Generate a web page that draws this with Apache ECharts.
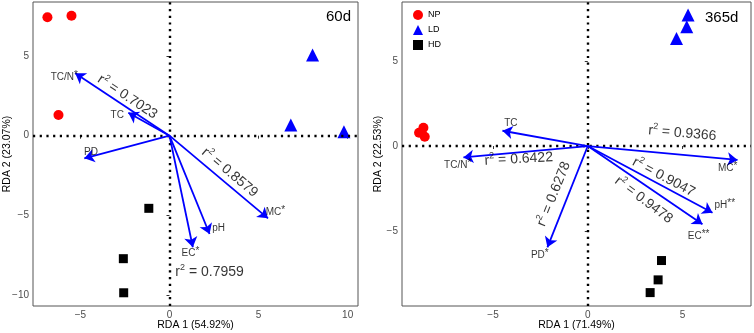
<!DOCTYPE html>
<html>
<head>
<meta charset="utf-8">
<script src="https://cdn.jsdelivr.net/npm/echarts@6/dist/echarts.min.js"></script>
<style>
  html, body { margin: 0; padding: 0; background: #fff; }
  #chart { width: 754px; height: 333px; }
</style>
</head>
<body>
<div id="chart"></div>
<script>
// sample scores (RDA1, RDA2)
const groups = ['NP', 'LD', 'HD'];
const np60 = [[-6.85, 7.43], [-5.5, 7.53], [-6.23, 1.30]];
const ld60 = [[8.03, 5.07], [6.81, 0.67], [9.79, 0.25]];
const hd60 = [[-1.16, -4.56], [-2.59, -7.72], [-2.57, -9.86]];
const np365 = [[-8.9, 0.78], [-8.67, 1.08], [-8.6, 0.55]];
const ld365 = [[5.29, 7.72], [5.22, 7.03], [4.68, 6.34]];
const hd365 = [[3.89, -6.75], [3.71, -7.89], [3.29, -8.64]];

// environmental vectors
const vars60 = ['TC/N', 'TC', 'PD', 'MC', 'pH', 'EC'];
const tips60 = [[-5.29, 3.92], [-2.31, 1.44], [-4.78, -1.42], [5.53, -5.19], [2.25, -6.17], [1.31, -7.0]];
const stars60 = ['*', '', '', '*', '', '*'];
const labelAt60 = [[-5.9, 3.66], [-2.93, 1.29], [-4.41, -1.07], [5.95, -4.79], [2.76, -5.8], [1.18, -7.4]];
const r2Text60 = ['0.7023', '0.8579', '0.7959'];
const r2At60 = [[-2.36, 2.43], [3.38, -2.31], [2.25, -8.54]];
const r2Rot60 = [-33.6, -40, 0];

const vars365 = ['TC', 'TC/N', 'MC', 'pH', 'EC', 'PD'];
const tips365 = [[-4.5, 0.9], [-6.56, -0.67], [7.9, -0.82], [6.58, -3.93], [6.05, -4.61], [-2.13, -5.97]];
const stars365 = ['', '*', '*', '**', '**', '*'];
const labelAt365 = [[-4.06, 1.37], [-6.86, -1.12], [7.38, -1.3], [7.23, -3.47], [5.85, -5.3], [-2.53, -6.42]];
const r2Text365 = ['0.9366', '0.6422', '0.6278', '0.9047', '0.9478'];
const r2At365 = [[4.99, 0.75], [-3.64, -0.77], [-1.79, -2.83], [4.0, -1.83], [2.95, -3.18]];
const r2Rot365 = [-5, 3, 68, -28, -37];

// tick labels
const xTicks60 = [-5, 0, 5, 10];
const yTicks60 = [-10, -5, 0, 5];
const xTicks365 = [-5, 0, 5];
const yTicks365 = [-5, 0, 5];

const FONT = 'Liberation Sans';
const colors = { NP: '#ff0000', LD: '#0000ff', HD: '#000000' };
const shapes = { NP: 'circle', LD: 'triangle', HD: 'rect' };
const sizes = { NP: 10, LD: 13, HD: 9 };

const chart = echarts.init(document.getElementById('chart'));

function fmtTick(v) {
  return v < 0 ? '\u2212' + (-v) : String(v);
}

function makeAxis(min, max, ticks, name, gap, idx) {
  return {
    type: 'value',
    gridIndex: idx,
    min: min,
    max: max,
    name: name,
    nameLocation: 'middle',
    nameGap: gap,
    nameMoveOverlap: false,
    nameTextStyle: { fontSize: 10.5, color: '#000', fontFamily: FONT },
    axisLine: { show: false },
    splitLine: { show: false },
    axisTick: {
      show: true, length: 3, customValues: ticks,
      lineStyle: { color: '#333', width: 1 }
    },
    axisLabel: {
      customValues: ticks, margin: 4, fontSize: 10, color: '#4d4d4d',
      fontFamily: FONT, formatter: fmtTick
    }
  };
}

function scoreSeries(name, data, idx) {
  return {
    name: name,
    type: 'scatter',
    xAxisIndex: idx,
    yAxisIndex: idx,
    data: data,
    symbol: shapes[name],
    symbolSize: sizes[name],
    itemStyle: { color: colors[name], opacity: 1 },
    z: 4
  };
}

function arrowSeries(tips, idx) {
  return {
    type: 'lines',
    coordinateSystem: 'cartesian2d',
    xAxisIndex: idx,
    yAxisIndex: idx,
    symbol: ['none', 'arrow'],
    symbolSize: 10,
    lineStyle: { color: '#0000ff', width: 1.8, opacity: 1 },
    data: tips.map(t => ({ coords: [[0, 0], t] })),
    silent: true,
    z: 5
  };
}

const supRich = {
  s: { fontSize: 10, verticalAlign: 'top', lineHeight: 8, fontFamily: FONT, color: '#000' }
};

function varLabelSeries(names, stars, pos, idx) {
  return {
    type: 'scatter',
    xAxisIndex: idx,
    yAxisIndex: idx,
    symbolSize: 0,
    silent: true,
    data: names.map((n, i) => ({ value: pos[i], name: n + (stars[i] ? '{s|' + stars[i] + '}' : '') })),
    label: {
      show: true, position: 'inside', formatter: p => p.name,
      fontSize: 10, lineHeight: 14, color: '#000', fontFamily: FONT,
      rich: supRich
    },
    z: 6
  };
}

function r2Series(texts, pos, rots, idx) {
  return {
    type: 'scatter',
    xAxisIndex: idx,
    yAxisIndex: idx,
    symbolSize: 0,
    silent: true,
    data: texts.map((t, i) => ({
      value: pos[i], name: 'r{s|2} = ' + t,
      label: { rotate: rots[i] }
    })),
    label: {
      show: true, position: 'inside', formatter: p => p.name,
      fontSize: 14, lineHeight: 18, color: '#000', fontFamily: FONT,
      rich: { s: { fontSize: 9, verticalAlign: 'top', lineHeight: 9, fontFamily: FONT, color: '#000' } }
    },
    z: 6
  };
}

function zeroLines(idx) {
  return {
    type: 'scatter',
    xAxisIndex: idx,
    yAxisIndex: idx,
    data: [],
    silent: true,
    markLine: {
      silent: true,
      symbol: ['none', 'none'],
      label: { show: false },
      animation: false,
      lineStyle: { color: '#000', type: [2.2, 4.5], width: 2.4 },
      data: [{ xAxis: 0 }, { yAxis: 0 }]
    },
    z: 1
  };
}

const option = {
  animation: false,
  textStyle: { fontFamily: FONT },
  title: [
    { text: '60d', left: 326, top: 9, padding: 0, textStyle: { fontSize: 15, fontWeight: 'normal', color: '#000', fontFamily: FONT } },
    { text: '365d', left: 705, top: 10, padding: 0, textStyle: { fontSize: 15, fontWeight: 'normal', color: '#000', fontFamily: FONT } }
  ],
  legend: {
    data: groups,
    orient: 'vertical',
    left: 413,
    top: 10,
    itemWidth: 10,
    itemHeight: 10,
    itemGap: 5,
    padding: 0,
    textStyle: { fontSize: 9, color: '#000', fontFamily: FONT }
  },
  grid: [
    { left: 33, top: 2, width: 325, height: 304, show: true, borderColor: '#555', borderWidth: 1, outerBoundsMode: 'none' },
    { left: 402, top: 2, width: 349, height: 304, show: true, borderColor: '#555', borderWidth: 1, outerBoundsMode: 'none' }
  ],
  xAxis: [
    makeAxis(-7.66, 10.58, xTicks60, 'RDA 1 (54.92%)', 14, 0),
    makeAxis(-9.8, 8.61, xTicks365, 'RDA 1 (71.49%)', 14, 1)
  ],
  yAxis: [
    makeAxis(-10.69, 8.39, yTicks60, 'RDA 2 (23.07%)', 20, 0),
    makeAxis(-9.43, 8.49, yTicks365, 'RDA 2 (22.53%)', 18.5, 1)
  ],
  series: [
    zeroLines(0),
    zeroLines(1),
    scoreSeries('NP', np60, 0),
    scoreSeries('LD', ld60, 0),
    scoreSeries('HD', hd60, 0),
    scoreSeries('NP', np365, 1),
    scoreSeries('LD', ld365, 1),
    scoreSeries('HD', hd365, 1),
    arrowSeries(tips60, 0),
    arrowSeries(tips365, 1),
    varLabelSeries(vars60, stars60, labelAt60, 0),
    varLabelSeries(vars365, stars365, labelAt365, 1),
    r2Series(r2Text60, r2At60, r2Rot60, 0),
    r2Series(r2Text365, r2At365, r2Rot365, 1)
  ]
};

chart.setOption(option);
</script>
</body>
</html>
